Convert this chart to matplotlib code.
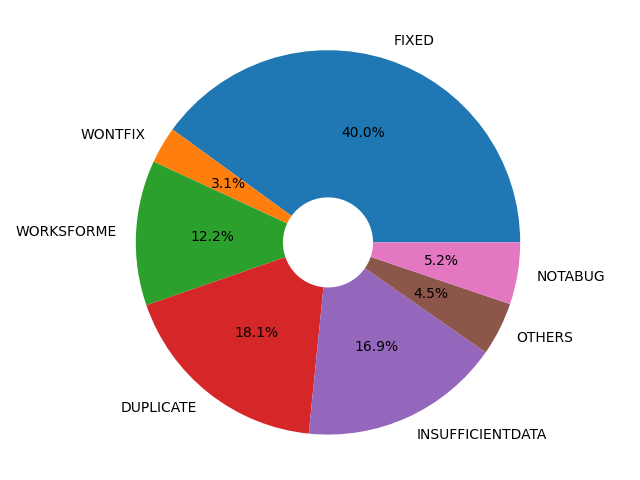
import matplotlib.pyplot as plt

labels = ['FIXED', 'WONTFIX', 'WORKSFORME', 'DUPLICATE', 'INSUFFICIENTDATA', 'OTHERS', 'NOTABUG']
sizes = [40.0, 3.1, 12.2, 18.1, 16.9, 4.5, 5.2]

fig, ax = plt.subplots(figsize=(6.4, 4.8), dpi=100)
ax.pie(sizes, labels=labels, autopct='%1.1f%%', radius=1.3)
centre = plt.Circle((0, 0), 0.3, color='white')
ax.add_artist(centre)
fig.savefig('out.png')
